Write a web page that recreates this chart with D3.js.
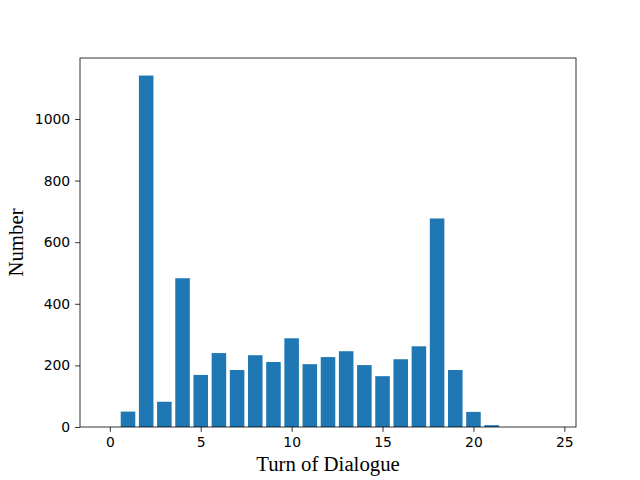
<!DOCTYPE html>
<html><head><meta charset="utf-8">
<script src="https://cdn.jsdelivr.net/npm/d3@7"></script>
<style>body{margin:0;background:#fff}svg{display:block}</style>
</head><body>
<script>
const turns = [0,1,2,3,4,5,6,7,8,9,10,11,12,13,14,15,16,17,18,19,20,21,22,23,24];
const counts = [0,50,1141,82,483,169,240,185,233,211,288,204,227,246,201,165,220,262,677,185,49,6,0,0,0];
const xTicks = [0,5,10,15,20,25];
const yTicks = [0,200,400,600,800,1000];

const W=640,H=480;
const m={left:80,right:64,top:58,bottom:53};
const svg=d3.select("body").append("svg").attr("width",W).attr("height",H);
const x=d3.scaleLinear().domain([-1.64,25.64]).range([m.left,W-m.right]);
const y=d3.scaleLinear().domain([0,1198]).range([H-m.bottom,m.top]);
const bw=0.8;

svg.append("g").selectAll("rect").data(turns).join("rect")
  .attr("x",d=>x(d-bw/2)).attr("width",d=>x(d+bw/2)-x(d-bw/2))
  .attr("y",(d,i)=>y(counts[i])).attr("height",(d,i)=>y(0)-y(counts[i]))
  .attr("fill","#1f77b4");

const fx=g=>{g.selectAll("text").attr("font-family","DejaVu Sans").attr("font-size","13.9px").attr("fill","#000");
  g.selectAll("line").attr("stroke","#000").attr("stroke-width",0.8);g.select(".domain").remove();};
svg.append("g").attr("transform",`translate(0,${H-m.bottom})`)
  .call(d3.axisBottom(x).tickValues(xTicks).tickSize(4.9).tickPadding(4.9).tickFormat(d3.format("d"))).call(fx);
svg.append("g").attr("transform",`translate(${m.left},0)`)
  .call(d3.axisLeft(y).tickValues(yTicks).tickSize(4.9).tickPadding(4.9).tickFormat(d3.format("d"))).call(fx);

svg.append("rect").attr("x",m.left).attr("y",m.top).attr("width",W-m.left-m.right).attr("height",H-m.top-m.bottom)
  .attr("fill","none").attr("stroke","#000").attr("stroke-width",0.8);

svg.append("text").attr("x",(m.left+W-m.right)/2).attr("y",471).attr("text-anchor","middle")
  .attr("font-family","Liberation Serif").attr("font-size","20.8px").text("Turn of Dialogue");
svg.append("text").attr("transform",`translate(23,${(m.top+H-m.bottom)/2}) rotate(-90)`).attr("text-anchor","middle")
  .attr("font-family","Liberation Serif").attr("font-size","20.8px").text("Number");
</script>
</body></html>
